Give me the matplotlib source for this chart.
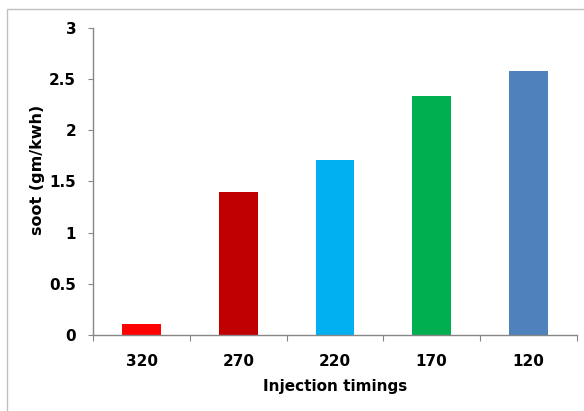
import matplotlib.pyplot as plt
from matplotlib.patches import Rectangle

plt.rcParams['font.family'] = ['DejaVu Sans']

timings = ['320', '270', '220', '170', '120']
soot = [0.11, 1.40, 1.71, 2.33, 2.58]
bar_colors = ['#FF0000', '#C00000', '#00B0F0', '#00B050', '#4F81BD']
y_ticks = [0, 0.5, 1, 1.5, 2, 2.5, 3]
y_tick_labels = ['0', '0.5', '1', '1.5', '2', '2.5', '3']

fs = 11

fig = plt.figure(figsize=(5.84, 4.11), dpi=100)
ax = fig.add_axes([0.1598, 0.1849, 0.8277, 0.7477])

x = list(range(len(timings)))
ax.bar(x, soot, width=0.4, color=bar_colors, zorder=2)

ax.set_xlim(-0.5, len(timings) - 0.5)
ax.set_ylim(0, 3)

axis_grey = '#868686'
for side in ['top', 'right']:
    ax.spines[side].set_visible(False)
for side in ['left', 'bottom']:
    ax.spines[side].set_color(axis_grey)
    ax.spines[side].set_linewidth(1.0)

ax.set_yticks(y_ticks)
ax.set_yticklabels(y_tick_labels, fontsize=fs, fontweight='bold')
ax.tick_params(axis='y', direction='out', length=3.3, width=0.8, color=axis_grey, pad=9)

ax.set_xticks(x)
ax.set_xticklabels(timings, fontsize=fs, fontweight='bold')
ax.tick_params(axis='x', which='major', length=0, pad=14)
ax.set_xticks([i - 0.5 for i in range(len(timings) + 1)], minor=True)
ax.tick_params(axis='x', which='minor', direction='out', length=4, width=0.8, color=axis_grey)

ax.set_xlabel('Injection timings', fontsize=fs, fontweight='bold', labelpad=7)
ax.set_ylabel('soot (gm/kwh)', fontsize=11.5, fontweight='bold')
ax.yaxis.set_label_coords(-0.1, 0.537)

# outer chart frame
frame = Rectangle((6.5 / 584, -0.1), 1.2, 1.1 - 9 / 411, transform=fig.transFigure,
                  fill=False, edgecolor='#BFBFBF', linewidth=1.0, clip_on=False)
fig.patches.append(frame)

fig.savefig('out.png', dpi=100)
